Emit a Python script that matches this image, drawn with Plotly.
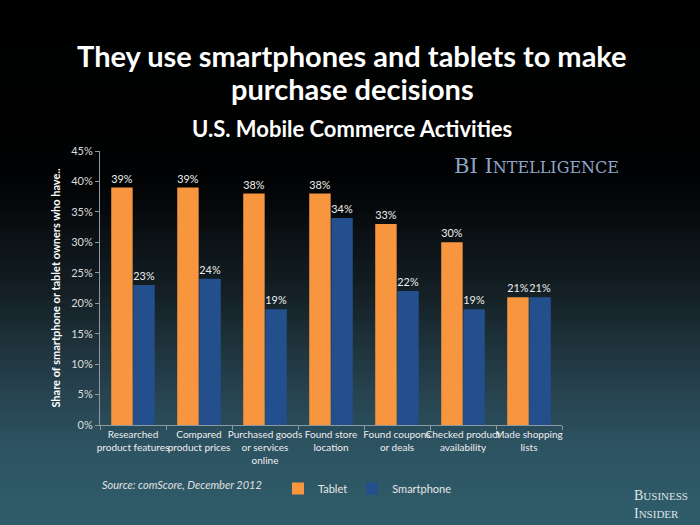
import plotly.graph_objects as go

categories = ["Researched<br>product features", "Compared<br>product prices",
              "Purchased goods<br>or services<br>online", "Found store<br>location",
              "Found coupons<br>or deals", "Checked product<br>availability",
              "Made shopping<br>lists"]
tablet = [39, 39, 38, 38, 33, 30, 21]
smartphone = [23, 24, 19, 34, 22, 19, 21]
y_ticks = [0, 5, 10, 15, 20, 25, 30, 35, 40, 45]
y_ticktext = [f"{v}%" for v in y_ticks]

W, H = 700, 525
L, R, T, B = 100, 138, 151, 100
plot_h = H - T - B

def py(px):
    return (H - B - px) / plot_h

def px_x(px):
    return (px - L) / (W - L - R)

# background gradient stops (pixel y, rgb)
stops = [(0, (0, 0, 0)), (180, (1, 2, 3)), (230, (10, 15, 18)), (300, (21, 34, 40)),
         (380, (37, 63, 74)), (450, (45, 84, 99)), (525, (48, 92, 106))]

def col_at(y):
    for (y0, c0), (y1, c1) in zip(stops, stops[1:]):
        if y0 <= y <= y1:
            t = (y - y0) / (y1 - y0)
            return tuple(round(a + (b - a) * t) for a, b in zip(c0, c1))
    return stops[-1][1]

shapes = []
step = 5
for y in range(0, H, step):
    c = col_at(y + step / 2)
    shapes.append(dict(type="rect", xref="paper", yref="paper",
                       x0=px_x(-5), x1=px_x(W + 5), y0=py(y + step + 0.5), y1=py(y),
                       fillcolor=f"rgb{c}", line=dict(width=0), layer="below"))

fig = go.Figure()
fig.add_trace(go.Bar(x=categories, y=tablet, name="Tablet", marker_color="#f7963f",
                     marker_line_width=0, text=[f"{v}%" for v in tablet],
                     textposition="outside", textfont=dict(color="#eeeeee", size=11),
                     cliponaxis=False))
fig.add_trace(go.Bar(x=categories, y=smartphone, name="Smartphone", marker_color="#234f8c",
                     marker_line_width=0, text=[f"{v}%" for v in smartphone],
                     textposition="outside", textfont=dict(color="#eeeeee", size=11),
                     cliponaxis=False))

font_family = "Lato, 'Open Sans', sans-serif"

def ann(text, x, y, size, color, xanchor="center", family=None, align="center"):
    f = dict(size=size, color=color)
    if family:
        f["family"] = family
    return dict(text=text, x=px_x(x), y=py(y), xref="paper", yref="paper",
                xanchor=xanchor, yanchor="middle", align=align, showarrow=False, font=f)

annotations = [
    ann("<b>They use smartphones and tablets to make</b>", 352, 55, 29, "white"),
    ann("<b>purchase decisions</b>", 352, 89, 29, "white"),
    ann("<b>U.S. Mobile Commerce Activities</b>", 352, 128, 22, "white"),
    ann("BI I<span style='font-size:16px'>NTELLIGENCE</span>", 536, 166, 21, "#8ea6c6",
        family="'DejaVu Serif', serif"),
    ann("<i>Source: comScore, December 2012</i>", 100, 484, 11, "#e0e0e0", xanchor="left"),
    ann("B<span style='font-size:11px'>USINESS</span><br>I<span style='font-size:11px'>NSIDER</span>",
        632, 504, 14, "#dde4e8", xanchor="left", family="'Liberation Serif', serif", align="left"),
]

fig.update_layout(
    width=W, height=H,
    margin=dict(l=L, r=R, t=T, b=B),
    paper_bgcolor="#000000", plot_bgcolor="rgba(0,0,0,0)",
    font=dict(family=font_family, color="#e8e8e8", size=11),
    barmode="group", bargap=0.33, bargroupgap=0.03,
    shapes=shapes, annotations=annotations,
    showlegend=True,
    legend=dict(orientation="h", x=px_x(278), y=py(474), xanchor="left", yanchor="top",
                font=dict(size=11, color="#e8e8e8"), bgcolor="rgba(0,0,0,0)",
                itemwidth=30, traceorder="normal"),
    xaxis=dict(showline=True, linecolor="#8a9aa0", linewidth=1, ticks="outside",
               tickson="boundaries", ticklen=4, tickcolor="#8a9aa0", tickangle=0,
               tickfont=dict(size=10, color="#eeeeee"), showgrid=False),
    yaxis=dict(range=[0, 45], tickvals=y_ticks, ticktext=y_ticktext,
               showline=True, linecolor="#8a9aa0", linewidth=1, ticks="outside",
               ticklen=4, tickcolor="#8a9aa0", showgrid=False, zeroline=False,
               tickfont=dict(size=11, color="#dddddd"),
               title=dict(text="<b>Share of smartphone or tablet owners who have..</b>",
                          font=dict(size=11, color="white"), standoff=8)),
)

fig.write_html("out.html")
